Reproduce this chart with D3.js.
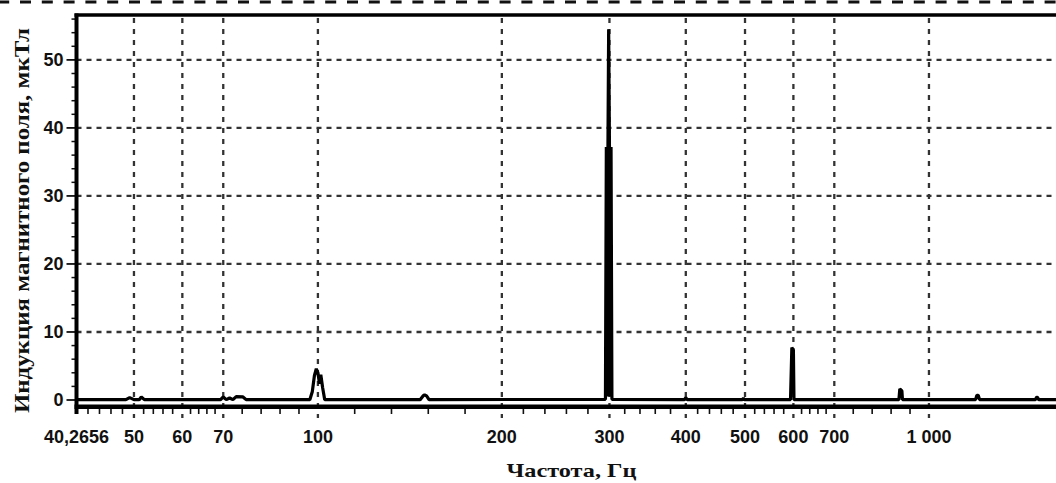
<!DOCTYPE html>
<html>
<head>
<meta charset="utf-8">
<title>spectrum</title>
<script src="https://cdnjs.cloudflare.com/ajax/libs/d3/7.8.5/d3.min.js"></script>
<style>
  body { margin: 0; background: #fff; }
  svg { display: block; }
  .tick-label { font-family: "Liberation Sans", Arial, sans-serif; font-weight: bold; font-size: 18px; fill: #111; }
  .title { font-family: "Liberation Serif", "Times New Roman", serif; font-weight: bold; fill: #111; }
</style>
</head>
<body>
<svg id="svg" width="1056" height="483"></svg>
<script>
// spectrum points: frequency (Hz) and induction (uT)
const freq = [40.2656, 48.5, 49.2, 50, 51, 51.4, 52, 69.3, 70, 70.8, 71.7, 72.6, 73.5, 75.4, 76.3,
  97, 97.9, 98.7, 99.4, 100, 100.6, 101.1, 101.8, 102.6, 147, 148.6, 149.5, 150.6, 152,
  295.5, 296.5, 297.4, 298.3, 299.1, 300, 300.9, 301.8, 302.8,
  398, 400, 402, 495, 497, 499,
  593.5, 596.5, 600, 601.3, 893, 896, 903, 905, 1192, 1198, 1204, 1210, 1494, 1500, 1505, 1512, 1614];
const induct = [0.05, 0.05, 0.35, 0.05, 0.05, 0.45, 0.05, 0.05, 0.45, 0.05, 0.3, 0.05, 0.5, 0.45, 0.05,
  0.05, 1.2, 3.6, 4.6, 4.0, 2.4, 3.7, 1.8, 0.05, 0.05, 0.6, 0.75, 0.6, 0.05,
  0.1, 37.2, 0.5, 37.2, 54.5, 37.2, 0.5, 37.2, 0.1,
  0.05, 0.35, 0.05, 0.05, 0.25, 0.05,
  0.05, 7.7, 7.3, 0.05, 0.05, 1.65, 1.35, 0.05, 0.05, 0.7, 0.7, 0.05, 0.05, 0.4, 0.4, 0.05, 0.05];

const xTicks = [40.2656, 50, 60, 70, 100, 200, 300, 400, 500, 600, 700, 1000];
const xTickLabels = ["40,2656", "50", "60", "70", "100", "200", "300", "400", "500", "600", "700", "1 000"];
const yTicks = [0, 10, 20, 30, 40, 50];
const yMinor = [2, 4, 6, 8, 12, 14, 16, 18, 22, 24, 26, 28, 32, 34, 36, 38, 42, 44, 46, 48, 52, 54, 56];

const pLeft = 76.5, pRight = 1056, pTop = 15, pBottom = 406.8;

const x = d3.scaleLog().domain([40.2656, 1614]).range([pLeft, pRight]);
const y = d3.scaleLinear().domain([-1, 56.6]).range([pBottom, pTop]);

const svg = d3.select('#svg');

// top dashed separator
svg.append('line')
  .attr('x1', -1.8).attr('x2', 1056).attr('y1', 2).attr('y2', 2)
  .attr('stroke', '#111').attr('stroke-width', 3).attr('stroke-dasharray', '11 10.8');

// grid
svg.append('g').selectAll('line')
  .data(yTicks.slice(1))
  .enter().append('line')
  .attr('x1', pLeft).attr('x2', pRight)
  .attr('y1', d => y(d)).attr('y2', d => y(d))
  .attr('stroke', '#333').attr('stroke-width', 2.3).attr('stroke-dasharray', '5 5');

svg.append('g').selectAll('line')
  .data(xTicks.slice(1))
  .enter().append('line')
  .attr('x1', d => x(d)).attr('x2', d => x(d))
  .attr('y1', pTop + 3).attr('y2', 418)
  .attr('stroke', '#333').attr('stroke-width', 2.3).attr('stroke-dasharray', '5 6');

// minor x ticks, 4 evenly spaced between labelled ticks
const minorX = [];
for (let i = 0; i < xTicks.length - 1; i++) {
  const p0 = x(xTicks[i]), p1 = x(xTicks[i + 1]);
  for (let k = 1; k < 5; k++) minorX.push(p0 + k * (p1 - p0) / 5);
}
svg.append('g').selectAll('line')
  .data(minorX)
  .enter().append('line')
  .attr('x1', d => d).attr('x2', d => d)
  .attr('y1', pBottom).attr('y2', 414)
  .attr('stroke', '#111').attr('stroke-width', 1.6);

// y ticks
svg.append('g').selectAll('line')
  .data(yTicks)
  .enter().append('line')
  .attr('x1', 66.5).attr('x2', pLeft)
  .attr('y1', d => y(d)).attr('y2', d => y(d))
  .attr('stroke', '#111').attr('stroke-width', 1.8);
svg.append('g').selectAll('line')
  .data(yMinor)
  .enter().append('line')
  .attr('x1', 71.5).attr('x2', pLeft)
  .attr('y1', d => y(d)).attr('y2', d => y(d))
  .attr('stroke', '#111').attr('stroke-width', 1.5);

// data
svg.append('clipPath').attr('id', 'clip')
  .append('rect').attr('x', pLeft).attr('y', pTop).attr('width', pRight - pLeft).attr('height', pBottom - pTop);

const line = d3.line()
  .x((d, i) => x(freq[i]))
  .y(d => y(d));

svg.append('path')
  .datum(induct)
  .attr('clip-path', 'url(#clip)')
  .attr('fill', 'none')
  .attr('stroke', '#000')
  .attr('stroke-width', 3.2)
  .attr('stroke-linejoin', 'bevel')
  .attr('d', line);

// frame
svg.append('line').attr('x1', pLeft - 2).attr('x2', pRight).attr('y1', pTop).attr('y2', pTop)
  .attr('stroke', '#000').attr('stroke-width', 3.4);
svg.append('line').attr('x1', pLeft).attr('x2', pLeft).attr('y1', pTop - 1.5).attr('y2', 414)
  .attr('stroke', '#000').attr('stroke-width', 4);
svg.append('line').attr('x1', pLeft - 2).attr('x2', pRight).attr('y1', pBottom).attr('y2', pBottom)
  .attr('stroke', '#000').attr('stroke-width', 4.5);

// labels
svg.append('g').selectAll('text')
  .data(xTicks)
  .enter().append('text')
  .attr('class', 'tick-label')
  .attr('x', d => x(d)).attr('y', 443)
  .attr('text-anchor', 'middle')
  .text((d, i) => xTickLabels[i]);

svg.append('g').selectAll('text')
  .data(yTicks)
  .enter().append('text')
  .attr('class', 'tick-label')
  .attr('x', 63.5).attr('y', d => y(d) + 6.5)
  .attr('text-anchor', 'end')
  .text(d => d);

svg.append('text')
  .attr('class', 'title')
  .attr('x', 571.5).attr('y', 477)
  .attr('text-anchor', 'middle')
  .attr('font-size', 19)
  .attr('textLength', 130).attr('lengthAdjust', 'spacingAndGlyphs')
  .text('Частота, Гц');

svg.append('text')
  .attr('class', 'title')
  .attr('transform', 'translate(28.5,220.5) rotate(-90)')
  .attr('text-anchor', 'middle')
  .attr('font-size', 22)
  .attr('textLength', 385).attr('lengthAdjust', 'spacingAndGlyphs')
  .text('Индукция магнитного поля, мкТл');
</script>
</body>
</html>
